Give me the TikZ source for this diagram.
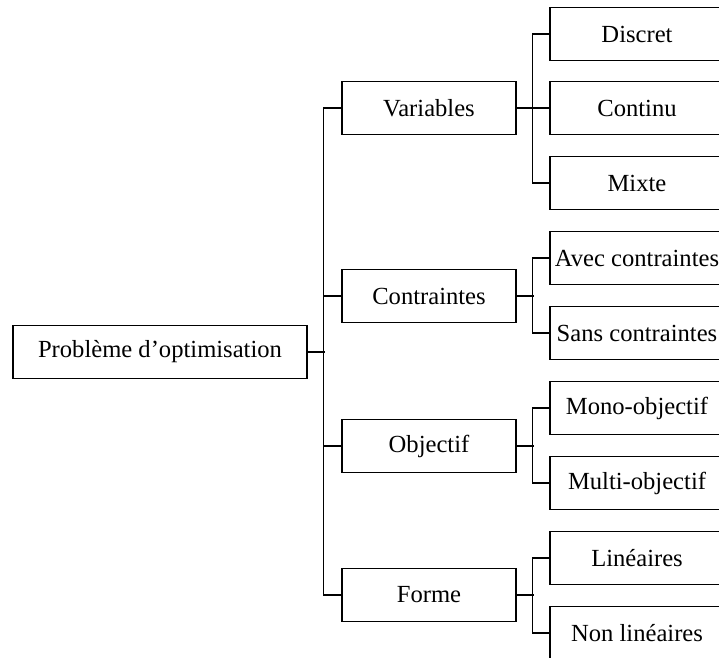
\documentclass[tikz,border=0pt]{standalone}
\usepackage{fontspec}
\setmainfont{Liberation Serif}
\begin{document}
\begin{tikzpicture}[x=1pt,y=-1pt,
  box/.style={draw=black, line width=1.3pt, rectangle, minimum width=174pt,
    minimum height=53pt, inner sep=0pt, font=\fontsize{24.6}{28}\selectfont},
  link/.style={draw=black, line width=1.3pt}]
  \useasboundingbox (0,0) rectangle (719,657);
  \clip (0,0) rectangle (719,657);

  % root
  \node[box, minimum width=294pt] (root) at (160,352) {Problème d’optimisation};

  % categories
  \node[box] (var) at (429,108) {Variables};
  \node[box] (con) at (429,296) {Contraintes};
  \node[box] (obj) at (429,446) {Objectif};
  \node[box] (frm) at (429,595) {Forme};

  % leaves
  \node[box] (dis) at (637,34)  {Discret};
  \node[box] (cnt) at (637,108) {Continu};
  \node[box] (mix) at (637,183) {Mixte};
  \node[box] (avc) at (637,258) {Avec contraintes};
  \node[box] (snc) at (637,333) {Sans contraintes};
  \node[box] (mon) at (637,408) {Mono-objectif};
  \node[box] (mul) at (637,483) {Multi-objectif};
  \node[box] (lin) at (637,558) {Linéaires};
  \node[box] (nli) at (637,633) {Non linéaires};

  % trunk from the root to the categories
  \draw[link] (root.east) -- ++(17,0) coordinate (jr);
  \draw[link] (var.west) -- ++(-18,0) |- (frm.west);
  \draw[link] (con.west) -- ++(-18,0);
  \draw[link] (obj.west) -- ++(-18,0);

  % Variables
  \draw[link] (var.east) -- (cnt.west);
  \draw[link] (dis.west) -- ++(-17,0) |- (mix.west);

  % Contraintes
  \draw[link] (con.east) -- ++(17,0);
  \draw[link] (avc.west) -- ++(-17,0) |- (snc.west);

  % Objectif
  \draw[link] (obj.east) -- ++(17,0);
  \draw[link] (mon.west) -- ++(-17,0) |- (mul.west);

  % Forme
  \draw[link] (frm.east) -- ++(17,0);
  \draw[link] (lin.west) -- ++(-17,0) |- (nli.west);
\end{tikzpicture}
\end{document}
